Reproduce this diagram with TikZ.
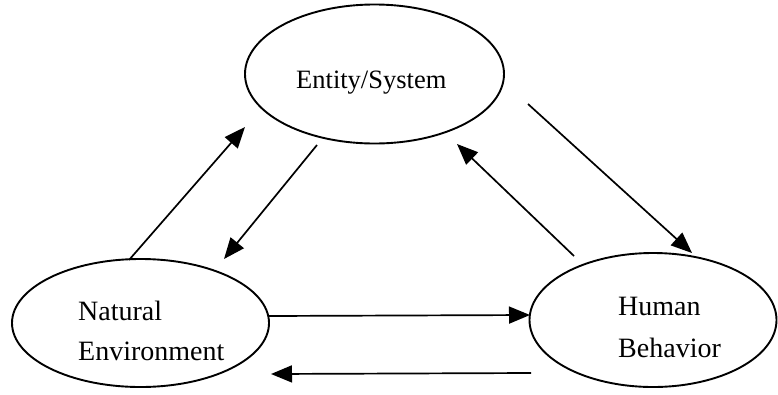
\documentclass[tikz,border=0pt]{standalone}
\usepackage{fontspec}
\setmainfont{Liberation Serif}
\usetikzlibrary{shapes.geometric,arrows.meta}
\begin{document}
\begin{tikzpicture}[x=1pt,y=-1pt,
  oval/.style={draw,ellipse,line width=1.9pt,inner sep=0pt},
  lbl/.style={anchor=base west,inner sep=0pt},
  conn/.style={line width=1.7pt,-{Triangle[length=21pt,width=17pt]}}]
\useasboundingbox (0,0) rectangle (778,394);
\node[oval,minimum width=259pt,minimum height=139pt] (es) at (374.5,74) {};
\node[oval,minimum width=257pt,minimum height=128pt] (ne) at (140.5,323) {};
\node[oval,minimum width=247pt,minimum height=134pt] (hb) at (653,320) {};
\node[lbl,font=\fontsize{26.5}{30}\selectfont] (t1) at (296,88) {Entity/System};
\node[lbl,font=\fontsize{28}{30}\selectfont] (t2) at (78,320) {Natural};
\node[lbl,font=\fontsize{28}{30}\selectfont] (t3) at (78,360) {Environment};
\node[lbl,font=\fontsize{28}{30}\selectfont] (t4) at (618,315) {Human};
\node[lbl,font=\fontsize{28}{30}\selectfont] (t5) at (618,357) {Behavior};
\coordinate (a1s) at (129,260); \coordinate (a1e) at (245,127);
\coordinate (a2s) at (317,145); \coordinate (a2e) at (224,259);
\coordinate (a3s) at (574,256); \coordinate (a3e) at (457,144);
\coordinate (a4s) at (528,104); \coordinate (a4e) at (692,253);
\coordinate (a5s) at (269,316); \coordinate (a5e) at (530,315);
\coordinate (a6s) at (531,373); \coordinate (a6e) at (271,374);
\draw[conn] (a1s) -- (a1e);
\draw[conn] (a2s) -- (a2e);
\draw[conn] (a3s) -- (a3e);
\draw[conn] (a4s) -- (a4e);
\draw[conn] (a5s) -- (a5e);
\draw[conn] (a6s) -- (a6e);
\end{tikzpicture}
\end{document}
